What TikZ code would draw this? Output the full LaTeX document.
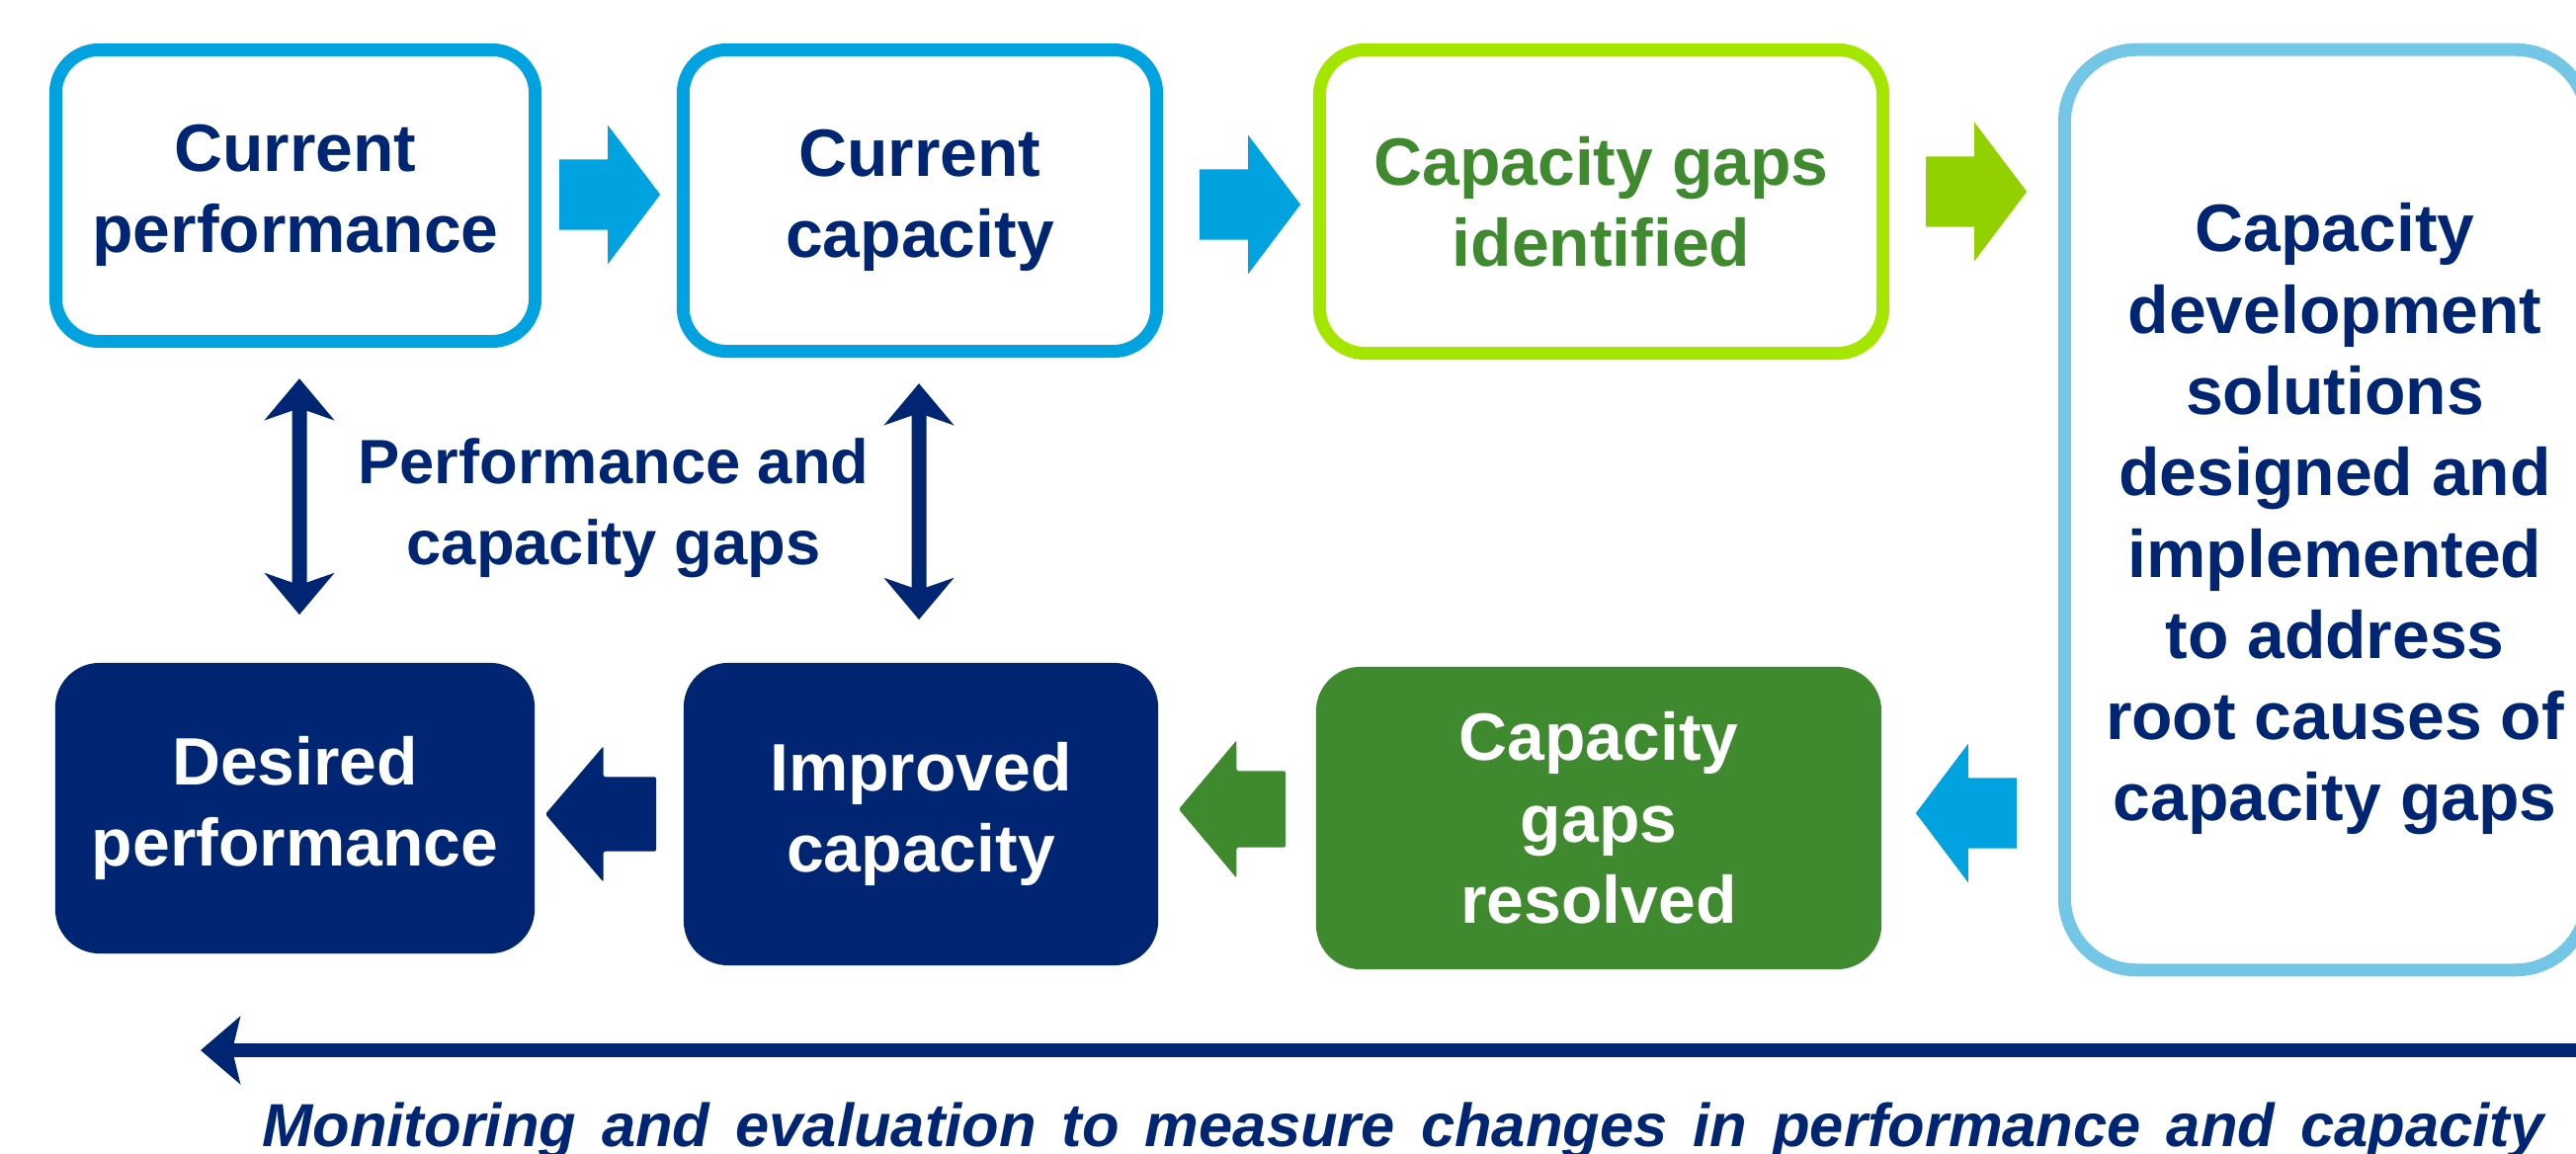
\documentclass[tikz,border=0pt]{standalone}
\usepackage{fontspec}
\setmainfont{Liberation Sans}
\usetikzlibrary{shapes.arrows,arrows.meta,calc}

\definecolor{navy}{HTML}{002673}
\definecolor{skyblue}{HTML}{00A3DF}
\definecolor{paleblue}{HTML}{74C6E6}
\definecolor{lime}{HTML}{A4E600}
\definecolor{limearrow}{HTML}{92D000}
\definecolor{leaf}{HTML}{3F8A2F}

\begin{document}
\begin{tikzpicture}[x=0.01cm, y=-0.01cm,
  boxtext/.style={font=\fontsize{19.3}{23.4}\selectfont\bfseries, align=center},
  outlinebox/.style={boxtext, rectangle, rounded corners=0.44cm, line width=0.13cm, fill=white, inner sep=0pt},
  solidbox/.style={boxtext, rectangle, rounded corners=0.45cm, text=white, inner sep=0pt},
  blockarrow/.style={single arrow, draw=none, inner xsep=0pt, inner ysep=0.35cm, anchor=tip,
    single arrow head extend=0.345cm, single arrow tip angle=106, minimum height=1.02cm},
  backarrow/.style={blockarrow, shape border rotate=180},
  gaparrow/.style={draw=navy, line width=0.15cm, {Stealth[length=0.42cm, width=0.70cm, inset=0.12cm]}-{Stealth[length=0.42cm, width=0.70cm, inset=0.12cm]}},
]
\useasboundingbox (0,0) rectangle (2607,1168);

% top row
\node[outlinebox, draw=skyblue, text=navy, minimum width=4.85cm, minimum height=2.95cm]
  (cp) at (299,198) {Current\\performance};
\node[outlinebox, draw=skyblue, text=navy, minimum width=4.79cm, minimum height=3.05cm]
  (cc) at (931,203) {Current\\capacity};
\node[outlinebox, draw=lime, text=leaf, rounded corners=0.46cm, minimum width=5.70cm, minimum height=3.07cm]
  (gi) at (1620.5,204) {Capacity gaps\\identified};
\node[outlinebox, draw=paleblue, rounded corners=0.73cm, minimum width=5.29cm, minimum height=9.31cm]
  (cd) at (2354,516) {};
\node[boxtext, text=navy, inner sep=0pt] (cdtext) at ($(cd.center)+(9,9.5)$)
  {Capacity\\development\\solutions\\designed and\\implemented\\to address\\root causes of\\capacity gaps};

% bottom row
\node[solidbox, fill=navy, minimum width=4.85cm, minimum height=2.94cm]
  (dp) at (298.5,818) {Desired\\performance};
\node[solidbox, fill=navy, minimum width=4.80cm, minimum height=3.06cm]
  (ic) at (932,824) {Improved\\capacity};
\node[solidbox, fill=leaf, minimum width=5.72cm, minimum height=3.06cm]
  (gr) at (1618,828) {Capacity\\gaps\\resolved};

% block arrows along the cycle, placed by their tips
\node[blockarrow, fill=skyblue] (a1) at (669,197) {};
\node[blockarrow, fill=skyblue] (a2) at (1317,207) {};
\node[blockarrow, fill=limearrow] (a3) at (2052,194) {};
\node[backarrow, fill=skyblue] (a4) at (1938,823) {};
\node[backarrow, fill=leaf, minimum height=1.08cm, single arrow tip angle=100,
  inner ysep=0.38cm, single arrow head extend=0.31cm, rounded corners=0.02cm] (a5) at (1192,819) {};
\node[backarrow, fill=navy, minimum height=1.12cm, single arrow tip angle=99,
  inner ysep=0.37cm, single arrow head extend=0.31cm, rounded corners=0.02cm] (a6) at (551,824) {};

% gap arrows between current and improved states
\draw[gaparrow, shorten <=0.31cm, shorten >=0.48cm]
  ([xshift=0.04cm]cp.south) -- ([xshift=0.045cm]dp.north);
\draw[gaparrow, shorten <=0.26cm, shorten >=0.43cm]
  ([xshift=-0.01cm]cc.south) -- ([xshift=-0.02cm]ic.north);
\node[font=\fontsize{18}{23.4}\selectfont\bfseries, text=navy, align=center]
  (gaps) at (621,514) {Performance and\\capacity gaps};

% monitoring and evaluation arrow
\coordinate (mstart) at (2625,1063);
\coordinate (mend) at (203,1063);
\draw[navy, line width=0.14cm, -{Stealth[length=0.40cm, width=0.68cm, inset=0.08cm]}] (mstart) -- (mend);
\node[font=\fontsize{17.5}{21}\selectfont\bfseries\itshape, text=navy, anchor=base, inner sep=0pt]
  (me) at (1420,1160)
  {\makebox[23.08cm][s]{Monitoring and evaluation to measure changes in performance and capacity}};
\end{tikzpicture}
\end{document}
